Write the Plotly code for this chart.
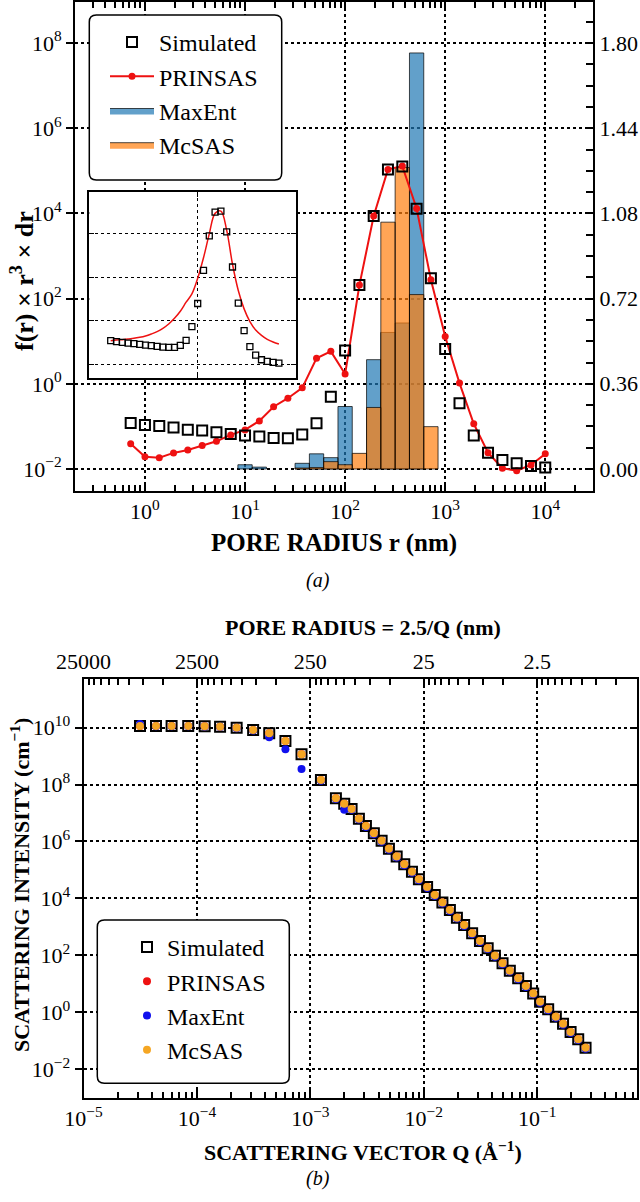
import math
import plotly.graph_objects as go

FONT = "Liberation Serif"
W, H = 640, 1202

# ---------------- Panel (a) data ----------------
radius_nm = [0.72, 1.0, 1.39, 1.93, 2.68, 3.73, 5.18, 7.20, 10.0, 13.9, 19.3, 26.8, 37.3, 51.8, 72.0,
             100, 139, 193, 268, 373, 518, 720, 1000, 1390, 1930, 2680, 3730, 5180, 7200, 10000]
sim_a = [0.194, 0.186, 0.182, 0.175, 0.166, 0.163, 0.155, 0.148, 0.142, 0.137, 0.131, 0.130, 0.146, 0.193, 0.305,
         0.501, 0.777, 1.069, 1.265, 1.278, 1.100, 0.806, 0.507, 0.278, 0.141, 0.069, 0.038, 0.024, 0.013, 0.006]
prinsas_a = [0.107, 0.052, 0.048, 0.068, 0.080, 0.099, 0.117, 0.144, 0.165, 0.203, 0.263, 0.299, 0.343, 0.468, 0.497,
             0.401, 0.777, 1.069, 1.266, 1.280, 1.101, 0.800, 0.560, 0.363, 0.191, 0.069, 0.003, -0.007, 0.017, 0.064]
maxent_a = [0, 0, 0, 0, 0, 0, 0, 0, 0.018, 0.008, 0, 0, 0.024, 0.064, 0.048,
            0.264, 0, 0.462, 0.577, 0.617, 1.758, 0, 0, 0, 0, 0, 0, 0, 0, 0]
mcsas_a = [0, 0, 0, 0, 0, 0, 0, 0, 0, 0, 0, 0, 0.004, 0.006, 0.031,
           0.018, 0.066, 0.260, 1.043, 1.274, 0.737, 0.179, 0, 0, 0, 0, 0, 0, 0, 0]

# inset (log-scale view)
inset_sim = [3.52, 3.33, 3.22, 3.10, 3.00, 2.90, 2.79, 2.70, 2.60, 2.51, 2.47, 2.47, 2.74, 3.58, 7.40,
             25.1, 145, 899, 3160, 3330, 1110, 173, 25.6, 5.98, 2.56, 1.64, 1.28, 1.17, 1.11, 1.07]
inset_prinsas = [3.52, 3.65, 3.71, 3.85, 3.98, 4.20, 4.51, 5.01, 5.68, 6.76, 8.51, 11.5, 16.7, 26.9, 41.7,
                 95.5, 282, 1000, 2950, 3310, 1200, 200, 50.1, 18.9, 9.66, 6.19, 4.67, 3.78, 3.27, 2.94]

# ---------------- Panel (b) data ----------------
q_inv_A = [3.15e-5, 4.36e-5, 5.98e-5, 8.38e-5, 1.17e-4, 1.60e-4, 2.24e-4, 3.13e-4, 4.34e-4, 6.03e-4,
           8.36e-4, 1.24e-3, 1.68e-3, 1.99e-3, 2.31e-3, 2.68e-3, 3.09e-3, 3.63e-3, 4.25e-3, 4.93e-3,
           5.77e-3, 6.73e-3, 7.87e-3, 9.06e-3, 1.07e-2, 1.25e-2, 1.46e-2, 1.70e-2, 1.96e-2, 2.27e-2,
           2.67e-2, 3.13e-2, 3.66e-2, 4.24e-2, 4.95e-2, 5.74e-2, 6.80e-2, 7.95e-2, 9.22e-2, 0.106,
           0.125, 0.146, 0.169, 0.197, 0.230, 0.267]
sim_b = [1.15e10, 1.15e10, 1.15e10, 1.15e10, 1.12e10, 1.08e10, 1.00e10, 8.3e9, 6.3e9, 3.4e9,
         1.16e9, 1.45e8, 3.3e7, 2.1e7, 1.38e7, 6.3e6, 3.47e6, 1.95e6, 1.05e6, 5.5e5,
         2.95e5, 1.58e5, 8.7e4, 4.7e4, 2.5e4, 1.32e4, 7.2e3, 3.9e3, 2.1e3, 1.15e3,
         589, 316, 178, 95.5, 52.5, 28.8, 15.5, 8.3, 4.57, 2.34,
         1.26, 0.69, 0.39, 0.20, 0.112, 0.056]
prinsas_b = [1.15e10, 1.15e10, 1.15e10, 1.15e10, 1.12e10, 1.08e10, 1.00e10, 8.3e9, 6.3e9, 3.4e9,
             1.16e9, 1.45e8, 3.3e7, 2.1e7, 1.38e7, 6.3e6, 3.47e6, 1.95e6, 1.05e6, 5.5e5,
             2.95e5, 1.58e5, 8.7e4, 4.7e4, 2.5e4, 1.32e4, 7.2e3, 3.9e3, 2.1e3, 1.15e3,
             589, 316, 178, 95.5, 52.5, 28.8, 15.5, 8.3, 4.57, 2.34,
             1.26, 0.69, 0.39, 0.20, 0.112, 0.056]
maxent_b = [1.35e10, 1.13e10, 1.13e10, 1.12e10, 1.10e10, 1.05e10, 9.5e9, 7.9e9, 4.6e9, 1.74e9,
            3.5e8, 1.35e8, 3.1e7, 1.29e7, 1.30e7, 5.9e6, 3.2e6, 1.80e6, 9.7e5, 5.1e5,
            2.75e5, 1.47e5, 8.0e4, 4.3e4, 2.3e4, 1.22e4, 6.6e3, 3.6e3, 1.94e3, 1.06e3,
            545, 292, 165, 88, 48.5, 26.6, 14.3, 7.7, 4.22, 2.16,
            1.16, 0.64, 0.36, 0.185, 0.104, 0.052]
mcsas_b = [1.15e10, 1.15e10, 1.15e10, 1.15e10, 1.12e10, 1.08e10, 1.00e10, 8.3e9, 6.3e9, 3.4e9,
           1.16e9, 1.45e8, 3.3e7, 2.1e7, 1.38e7, 6.3e6, 3.47e6, 1.95e6, 1.05e6, 5.5e5,
           2.95e5, 1.58e5, 8.7e4, 4.7e4, 2.5e4, 1.32e4, 7.2e3, 3.9e3, 2.1e3, 1.15e3,
           589, 316, 178, 95.5, 52.5, 28.8, 15.5, 8.3, 4.57, 2.34,
           1.26, 0.69, 0.39, 0.20, 0.112, 0.056]

# tick labels
a_x_ticks = [1, 10, 100, 1000, 10000]
a_x_labels = ["10<sup>0</sup>", "10<sup>1</sup>", "10<sup>2</sup>", "10<sup>3</sup>", "10<sup>4</sup>"]
a_yl_ticks = [1e-2, 1, 1e2, 1e4, 1e6, 1e8]
a_yl_labels = ["10<sup>−2</sup>", "10<sup>0</sup>", "10<sup>2</sup>", "10<sup>4</sup>", "10<sup>6</sup>", "10<sup>8</sup>"]
a_yr_ticks = [0.0, 0.36, 0.72, 1.08, 1.44, 1.80]
a_yr_labels = ["0.00", "0.36", "0.72", "1.08", "1.44", "1.80"]
b_x_ticks = [1e-5, 1e-4, 1e-3, 1e-2, 1e-1]
b_x_labels = ["10<sup>−5</sup>", "10<sup>−4</sup>", "10<sup>−3</sup>", "10<sup>−2</sup>", "10<sup>−1</sup>"]
b_top_labels = ["25000", "2500", "250", "25", "2.5"]
b_y_ticks = [1e-2, 1, 1e2, 1e4, 1e6, 1e8, 1e10]
b_y_labels = ["10<sup>−2</sup>", "10<sup>0</sup>", "10<sup>2</sup>", "10<sup>4</sup>", "10<sup>6</sup>",
              "10<sup>8</sup>", "10<sup>10</sup>"]


def px(x):
    return x / W


def py(y):
    return 1 - y / H


def bar_polygons(centers, values):
    xs, ys = [], []
    n = len(centers)
    for i, v in enumerate(values):
        if v <= 0:
            continue
        lo = math.sqrt(centers[i - 1] * centers[i]) if i > 0 else centers[i] / math.sqrt(centers[i + 1] / centers[i])
        hi = math.sqrt(centers[i + 1] * centers[i]) if i < n - 1 else centers[i] * math.sqrt(centers[i] / centers[i - 1])
        xs += [lo, lo, hi, hi, lo, None]
        ys += [0, v, v, 0, 0, None]
    return xs, ys


fig = go.Figure()

# empty placeholder traces so that every axis is instantiated
for xa, ya in [("x", "y"), ("x4", "y4"), ("x2", "y5")]:
    fig.add_trace(go.Scatter(x=[], y=[], xaxis=xa, yaxis=ya, showlegend=False, hoverinfo="skip"))

# --- panel (a) bars ---
bx, by = bar_polygons(radius_nm, maxent_a)
fig.add_trace(go.Scatter(x=bx, y=by, mode="lines", fill="toself", name="MaxEnt",
                         fillcolor="rgba(31,119,180,0.7)", line=dict(color="rgba(0,0,0,0.7)", width=1),
                         xaxis="x", yaxis="y2", legend="legend", legendrank=3, hoverinfo="skip"))
bx, by = bar_polygons(radius_nm, mcsas_a)
fig.add_trace(go.Scatter(x=bx, y=by, mode="lines", fill="toself", name="McSAS",
                         fillcolor="rgba(255,127,14,0.7)", line=dict(color="rgba(0,0,0,0.7)", width=1),
                         xaxis="x", yaxis="y2", legend="legend", legendrank=4, hoverinfo="skip"))
fig.add_trace(go.Scatter(x=radius_nm, y=prinsas_a, mode="lines+markers", name="PRINSAS",
                         line=dict(color="#ee1111", width=2), marker=dict(color="#ee1111", size=7),
                         xaxis="x", yaxis="y2", legend="legend", legendrank=2))
fig.add_trace(go.Scatter(x=radius_nm, y=sim_a, mode="markers", name="Simulated",
                         marker=dict(symbol="square-open", size=10, color="black", line=dict(width=2)),
                         xaxis="x", yaxis="y2", legend="legend", legendrank=1))

# --- inset ---
fig.add_trace(go.Scatter(x=radius_nm, y=inset_prinsas, mode="lines", line=dict(color="#ee1111", width=1.5, shape="spline"),
                         xaxis="x3", yaxis="y3", showlegend=False))
fig.add_trace(go.Scatter(x=radius_nm, y=inset_sim, mode="markers",
                         marker=dict(symbol="square-open", size=6, color="black", line=dict(width=1.3)),
                         xaxis="x3", yaxis="y3", showlegend=False))

# --- panel (b) ---
fig.add_trace(go.Scatter(x=q_inv_A, y=sim_b, mode="markers", name="Simulated",
                         marker=dict(symbol="square-open", size=10, color="black", line=dict(width=2)),
                         xaxis="x2", yaxis="y4", legend="legend2", legendrank=1))
fig.add_trace(go.Scatter(x=q_inv_A, y=prinsas_b, mode="markers", name="PRINSAS",
                         marker=dict(color="#ee1111", size=8), xaxis="x2", yaxis="y4", legend="legend2", legendrank=2))
fig.add_trace(go.Scatter(x=q_inv_A, y=maxent_b, mode="markers", name="MaxEnt",
                         marker=dict(color="#1010ee", size=8), xaxis="x2", yaxis="y4", legend="legend2", legendrank=3))
fig.add_trace(go.Scatter(x=q_inv_A, y=mcsas_b, mode="markers", name="McSAS",
                         marker=dict(color="#f5a623", size=8), xaxis="x2", yaxis="y4", legend="legend2", legendrank=4))

tickfont = dict(family=FONT, size=22, color="black")
grid = dict(showgrid=True, gridcolor="black", griddash="dot", gridwidth=1.5)
line = dict(showline=True, linecolor="black", linewidth=2, automargin=False)

top_minor = [10 ** e / m for e in range(-4, 1) for m in range(2, 10)]

A_XDOM = [px(75), px(593)]
A_YDOM = [py(491), py(1.5)]
B_XDOM = [px(83.5), px(637)]
B_YDOM = [py(1097.5), py(679.3)]

fig.update_layout(
    template="none",
    width=W, height=H, margin=dict(l=0, r=0, t=0, b=0, autoexpand=False),
    paper_bgcolor="white", plot_bgcolor="white",
    font=dict(family=FONT, color="black"),
    xaxis=dict(type="log", range=[-0.699, 4.477], domain=A_XDOM, anchor="y",
               tickmode="array", tickvals=a_x_ticks, ticktext=a_x_labels, tickfont=tickfont,
               ticks="inside", ticklen=9, tickwidth=1.5, tickcolor="black", mirror="ticks",
               minor=dict(ticks="inside", ticklen=6, tickwidth=1.5, tickcolor="black", dtick="D1", showgrid=False),
               **grid, **line),
    yaxis=dict(type="log", range=[-2.516, 8.974], domain=A_YDOM, anchor="x",
               tickmode="array", tickvals=a_yl_ticks, ticktext=a_yl_labels, tickfont=tickfont,
               ticks="outside", ticklen=7, tickwidth=1.5, tickcolor="black", **grid, **line),
    yaxis2=dict(overlaying="y", side="right", anchor="x", range=[-0.093, 1.9754], domain=A_YDOM,
                tickmode="array", tickvals=a_yr_ticks, ticktext=a_yr_labels, tickfont=tickfont,
                ticks="inside", ticklen=7, tickwidth=1.5, tickcolor="black",
                minor=dict(ticks="inside", ticklen=7, tickwidth=1.5, tickcolor="black", tick0=0, dtick=0.09, showgrid=False),
                showgrid=False, zeroline=False, **line),
    xaxis3=dict(type="log", range=[-0.67, 4.414], domain=[px(89.3), px(295.7)], anchor="y3",
                tickmode="array", tickvals=[100], showticklabels=False,
                ticks="inside", ticklen=5, tickwidth=1.2, tickcolor="black", mirror="ticks",
                showgrid=True, gridcolor="black", griddash="dot", gridwidth=1.3,
                showline=True, linecolor="black", linewidth=1.5, automargin=False),
    yaxis3=dict(type="log", range=[-0.3, 3.954], domain=[py(377.5), py(192.3)], anchor="x3",
                tickmode="array", tickvals=[1, 10, 100, 1000], showticklabels=False,
                ticks="inside", ticklen=5, tickwidth=1.2, tickcolor="black", mirror="ticks",
                showgrid=True, gridcolor="black", griddash="dot", gridwidth=1.3,
                showline=True, linecolor="black", linewidth=1.5, automargin=False),
    xaxis2=dict(type="log", range=[-5, -0.12], domain=B_XDOM, anchor="y4",
                tickmode="array", tickvals=b_x_ticks, ticktext=b_x_labels, tickfont=tickfont,
                ticks="inside", ticklen=9, tickwidth=1.5, tickcolor="black",
                minor=dict(ticks="inside", ticklen=6, tickwidth=1.5, tickcolor="black", dtick="D1", showgrid=False),
                **grid, **line),
    xaxis4=dict(type="log", range=[-5, -0.12], domain=B_XDOM, overlaying="x2", side="top", anchor="y4",
                tickmode="array", tickvals=b_x_ticks, ticktext=b_top_labels, tickfont=tickfont,
                ticks="inside", ticklen=9, tickwidth=1.5, tickcolor="black",
                minor=dict(ticks="inside", ticklen=6, tickwidth=1.5, tickcolor="black",
                           tickmode="array", tickvals=top_minor, showgrid=False),
                showgrid=False, **line),
    yaxis4=dict(type="log", range=[-3, 11.7], domain=B_YDOM, anchor="x2",
                tickmode="array", tickvals=b_y_ticks, ticktext=b_y_labels, tickfont=tickfont,
                ticks="outside", ticklen=7, tickwidth=1.5, tickcolor="black", **grid, **line),
    yaxis5=dict(type="log", range=[-3, 11.7], domain=B_YDOM, overlaying="y4", side="right", anchor="x2",
                tickmode="array", tickvals=b_y_ticks, showticklabels=False,
                ticks="inside", ticklen=7, tickwidth=1.5, tickcolor="black", showgrid=False, **line),
    legend=dict(x=px(105), y=py(20), xanchor="left", yanchor="top", bgcolor="rgba(0,0,0,0)",
                font=dict(family=FONT, size=24, color="black"), itemwidth=44,
                traceorder="normal", borderwidth=0),
    legend2=dict(x=px(127), y=py(925), xanchor="left", yanchor="top", bgcolor="rgba(0,0,0,0)",
                 font=dict(family=FONT, size=24, color="black"), itemwidth=30,
                 traceorder="normal", borderwidth=0),
)


def rounded_box(x0, y0, x1, y1, r=7):
    X0, X1 = px(x0), px(x1)
    Y0, Y1 = py(y0), py(y1)  # Y0 top, Y1 bottom
    rx, ry = r / W, r / H
    return (f"M{X0 + rx},{Y0} L{X1 - rx},{Y0} Q{X1},{Y0} {X1},{Y0 - ry} "
            f"L{X1},{Y1 + ry} Q{X1},{Y1} {X1 - rx},{Y1} L{X0 + rx},{Y1} Q{X0},{Y1} {X0},{Y1 + ry} "
            f"L{X0},{Y0 - ry} Q{X0},{Y0} {X0 + rx},{Y0} Z")


fig.add_shape(type="path", path=rounded_box(89.3, 15, 281.7, 180), xref="paper", yref="paper",
              fillcolor="white", line=dict(color="black", width=1.5), layer="above")
fig.add_shape(type="path", path=rounded_box(97.3, 920, 289.3, 1083.3), xref="paper", yref="paper",
              fillcolor="white", line=dict(color="black", width=1.5), layer="above")

ann_font = dict(family=FONT, size=22, color="black")
ann_font_a = dict(family=FONT, size=25, color="black")
fig.add_annotation(text="<b>PORE RADIUS r (nm)</b>", x=px(334), y=py(543), xref="paper", yref="paper",
                   showarrow=False, font=ann_font_a, xanchor="center", yanchor="middle")
fig.add_annotation(text="<b>f(r) × r<sup>3</sup> × dr</b>", x=px(22), y=py(281), xref="paper", yref="paper",
                   showarrow=False, font=dict(family=FONT, size=26, color="black"), textangle=-90,
                   xanchor="center", yanchor="middle")
fig.add_annotation(text="<i>(a)</i>", x=px(318), y=py(580), xref="paper", yref="paper",
                   showarrow=False, font=dict(family=FONT, size=20, color="black"))
fig.add_annotation(text="<b>PORE RADIUS = 2.5/Q (nm)</b>", x=px(363), y=py(627), xref="paper", yref="paper",
                   showarrow=False, font=ann_font, xanchor="center", yanchor="middle")
fig.add_annotation(text="<b>SCATTERING VECTOR Q (Å<sup>−1</sup>)</b>", x=px(363), y=py(1151), xref="paper",
                   yref="paper", showarrow=False, font=ann_font, xanchor="center", yanchor="middle")
fig.add_annotation(text="<b>SCATTERING INTENSITY (cm<sup>−1</sup>)</b>", x=px(20), y=py(885), xref="paper",
                   yref="paper", showarrow=False, font=ann_font, textangle=-90, xanchor="center", yanchor="middle")
fig.add_annotation(text="<i>(b)</i>", x=px(318), y=py(1192), xref="paper", yref="paper",
                   showarrow=False, font=dict(family=FONT, size=20, color="black"))

fig.write_html("out.html")
